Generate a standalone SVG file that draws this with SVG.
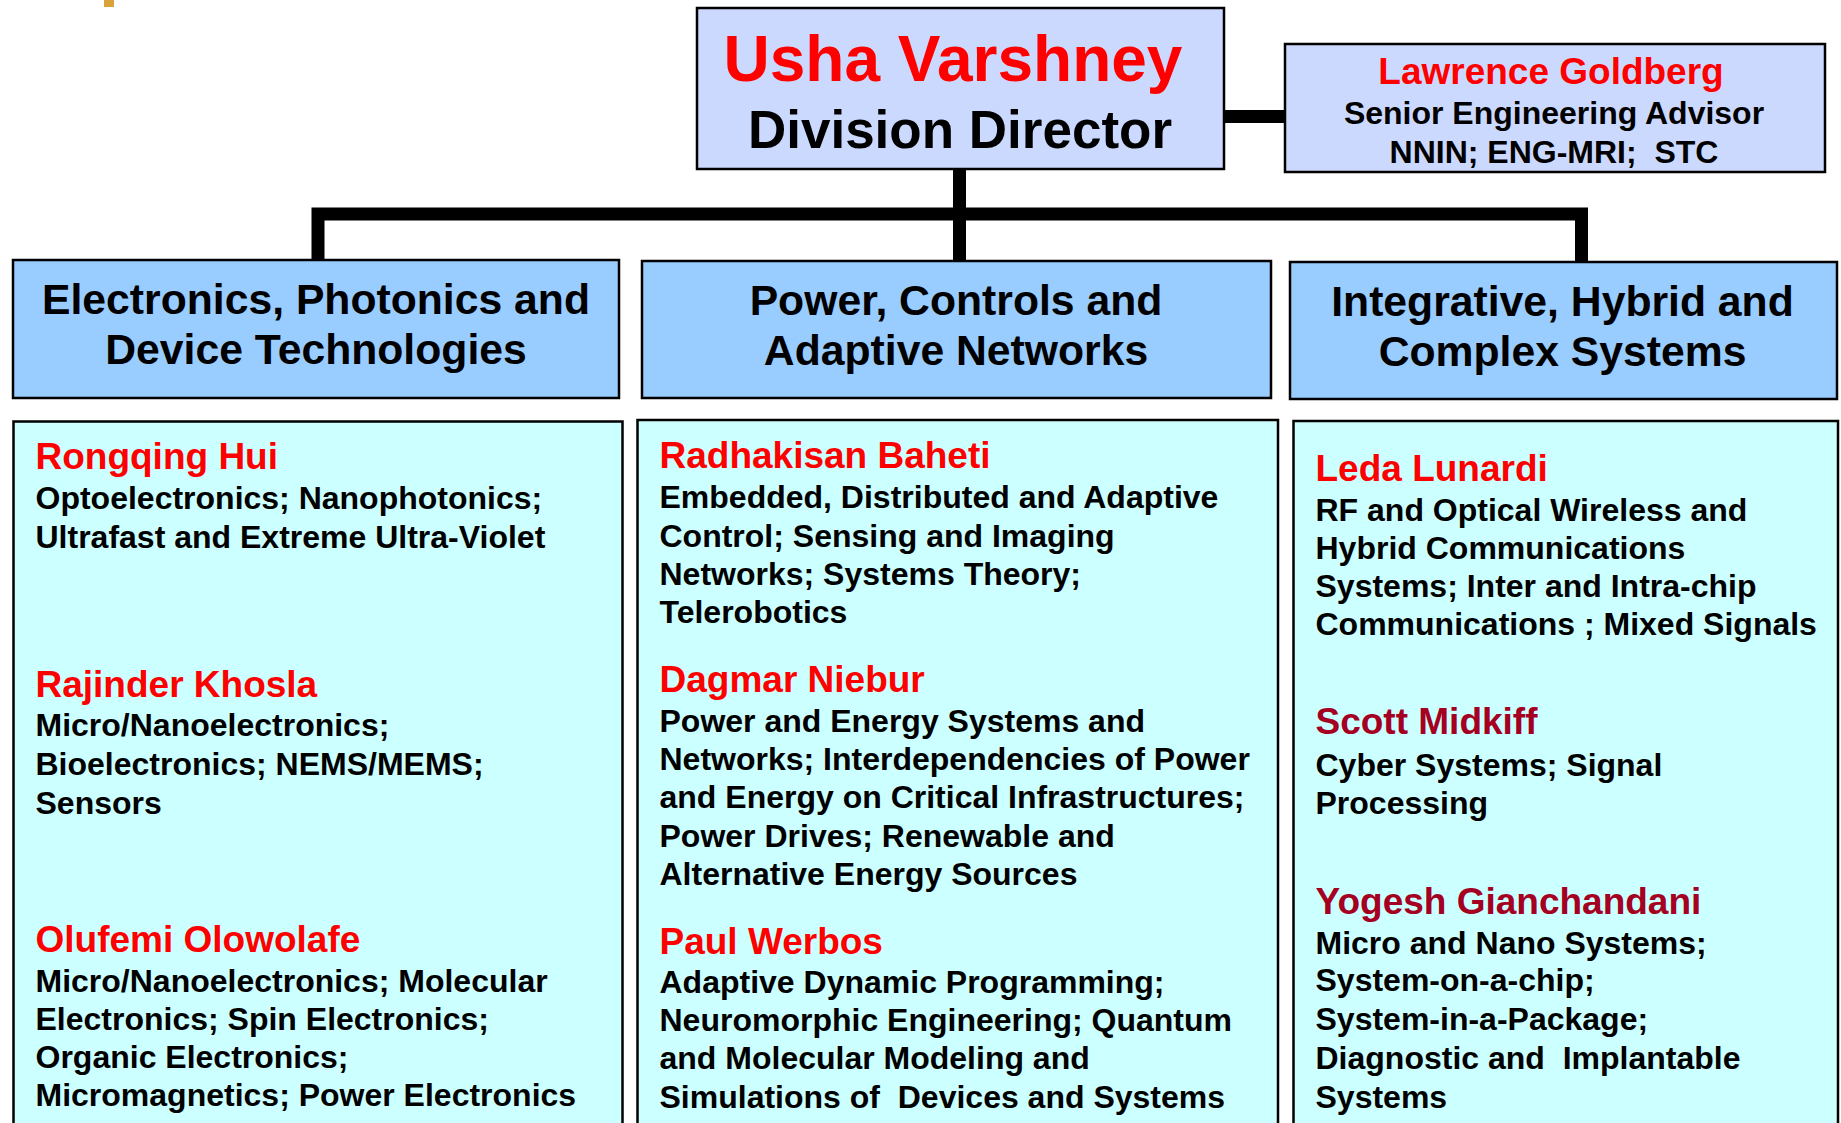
<svg xmlns="http://www.w3.org/2000/svg" width="1841" height="1123" viewBox="0 0 1841 1123">
<style>
text{font-family:"Liberation Sans",Arial,Helvetica,sans-serif;font-weight:bold}
.box{stroke:#000;stroke-width:2.5}
.top{fill:#CCD9FF}
.hdr{fill:#99CCFF}
.cnt{fill:#CCFFFF}
.mid{text-anchor:middle}
.red{fill:#FF0000}
.nm{fill:#FF0000;font-size:37px}
.nm2{fill:#A50021;font-size:37px}
.ds{fill:#000;font-size:32px}
.ht{fill:#000;font-size:42.7px}
.conn{fill:none;stroke:#000;stroke-width:13}
</style>
<rect x="104" y="0" width="10" height="7" fill="#D9A33A"/>
<g id="connectors">
<path class="conn" d="M1224 116.5H1285"/>
<path class="conn" d="M959.5 169V261"/>
<path class="conn" d="M318 260V214H1581.5V262"/>
</g>
<g id="node-director">
<rect class="box top" x="697" y="8" width="527" height="161"/>
<text class="mid red" x="953" y="81" font-size="64">Usha Varshney</text>
<text class="mid" x="960" y="147.5" font-size="53" fill="#000">Division Director</text>
</g>
<g id="node-advisor">
<rect class="box top" x="1285" y="44" width="540" height="128"/>
<text class="mid red" x="1551" y="83.5" font-size="37">Lawrence Goldberg</text>
<text class="mid ds" x="1554" y="123.5">Senior Engineering Advisor</text>
<text class="mid ds" x="1554" y="162.5" xml:space="preserve">NNIN; ENG-MRI;  STC</text>
</g>
<g id="node-epdt">
<rect class="box hdr" x="13" y="260" width="606" height="138"/>
<text class="mid ht" x="316" y="314">Electronics, Photonics and</text>
<text class="mid ht" x="316" y="364">Device Technologies</text>
</g>
<g id="node-pcan">
<rect class="box hdr" x="642" y="261" width="629" height="137"/>
<text class="mid ht" x="956" y="315">Power, Controls and</text>
<text class="mid ht" x="956" y="365">Adaptive Networks</text>
</g>
<g id="node-ihcs">
<rect class="box hdr" x="1290" y="262" width="547" height="137"/>
<text class="mid ht" x="1562.5" y="316">Integrative, Hybrid and</text>
<text class="mid ht" x="1562.5" y="366">Complex Systems</text>
</g>
<g id="node-epdt-staff">
<rect class="box cnt" x="13.5" y="421.5" width="609" height="720"/>
<text class="nm" x="35.5" y="469">Rongqing Hui</text>
<text class="ds" x="35.5" y="509">Optoelectronics; Nanophotonics;</text>
<text class="ds" x="35.5" y="548">Ultrafast and Extreme Ultra-Violet</text>
<text class="nm" x="35.5" y="697">Rajinder Khosla</text>
<text class="ds" x="35.5" y="736">Micro/Nanoelectronics;</text>
<text class="ds" x="35.5" y="775">Bioelectronics; NEMS/MEMS;</text>
<text class="ds" x="35.5" y="813.5">Sensors</text>
<text class="nm" x="35.5" y="952">Olufemi Olowolafe</text>
<text class="ds" x="35.5" y="991.5">Micro/Nanoelectronics; Molecular</text>
<text class="ds" x="35.5" y="1030">Electronics; Spin Electronics;</text>
<text class="ds" x="35.5" y="1068">Organic Electronics;</text>
<text class="ds" x="35.5" y="1106">Micromagnetics; Power Electronics</text>
</g>
<g id="node-pcan-staff">
<rect class="box cnt" x="637.5" y="420" width="640.5" height="720"/>
<text class="nm" x="659.5" y="468">Radhakisan Baheti</text>
<text class="ds" x="659.5" y="508">Embedded, Distributed and Adaptive</text>
<text class="ds" x="659.5" y="546.5">Control; Sensing and Imaging</text>
<text class="ds" x="659.5" y="584.5">Networks; Systems Theory;</text>
<text class="ds" x="659.5" y="622.5">Telerobotics</text>
<text class="nm" x="659.5" y="692">Dagmar Niebur</text>
<text class="ds" x="659.5" y="731.5">Power and Energy Systems and</text>
<text class="ds" x="659.5" y="769.5">Networks; Interdependencies of Power</text>
<text class="ds" x="659.5" y="807.5">and Energy on Critical Infrastructures;</text>
<text class="ds" x="659.5" y="846.5">Power Drives; Renewable and</text>
<text class="ds" x="659.5" y="884.5">Alternative Energy Sources</text>
<text class="nm" x="659.5" y="954">Paul Werbos</text>
<text class="ds" x="659.5" y="992.5">Adaptive Dynamic Programming;</text>
<text class="ds" x="659.5" y="1030.5">Neuromorphic Engineering; Quantum</text>
<text class="ds" x="659.5" y="1068.5">and Molecular Modeling and</text>
<text class="ds" x="659.5" y="1107.5" xml:space="preserve">Simulations of  Devices and Systems</text>
</g>
<g id="node-ihcs-staff">
<rect class="box cnt" x="1293.5" y="421" width="544.5" height="720"/>
<text class="nm" x="1315.5" y="481">Leda Lunardi</text>
<text class="ds" x="1315.5" y="520.5">RF and Optical Wireless and</text>
<text class="ds" x="1315.5" y="558.5">Hybrid Communications</text>
<text class="ds" x="1315.5" y="596.5">Systems; Inter and Intra-chip</text>
<text class="ds" x="1315.5" y="634.5">Communications ; Mixed Signals</text>
<text class="nm2" x="1315.5" y="734">Scott Midkiff</text>
<text class="ds" x="1315.5" y="775.5">Cyber Systems; Signal</text>
<text class="ds" x="1315.5" y="813.5">Processing</text>
<text class="nm2" x="1315.5" y="914">Yogesh Gianchandani</text>
<text class="ds" x="1315.5" y="953.5">Micro and Nano Systems;</text>
<text class="ds" x="1315.5" y="990.5">System-on-a-chip;</text>
<text class="ds" x="1315.5" y="1029.5">System-in-a-Package;</text>
<text class="ds" x="1315.5" y="1068.5" xml:space="preserve">Diagnostic and  Implantable</text>
<text class="ds" x="1315.5" y="1107.5">Systems</text>
</g>
</svg>
